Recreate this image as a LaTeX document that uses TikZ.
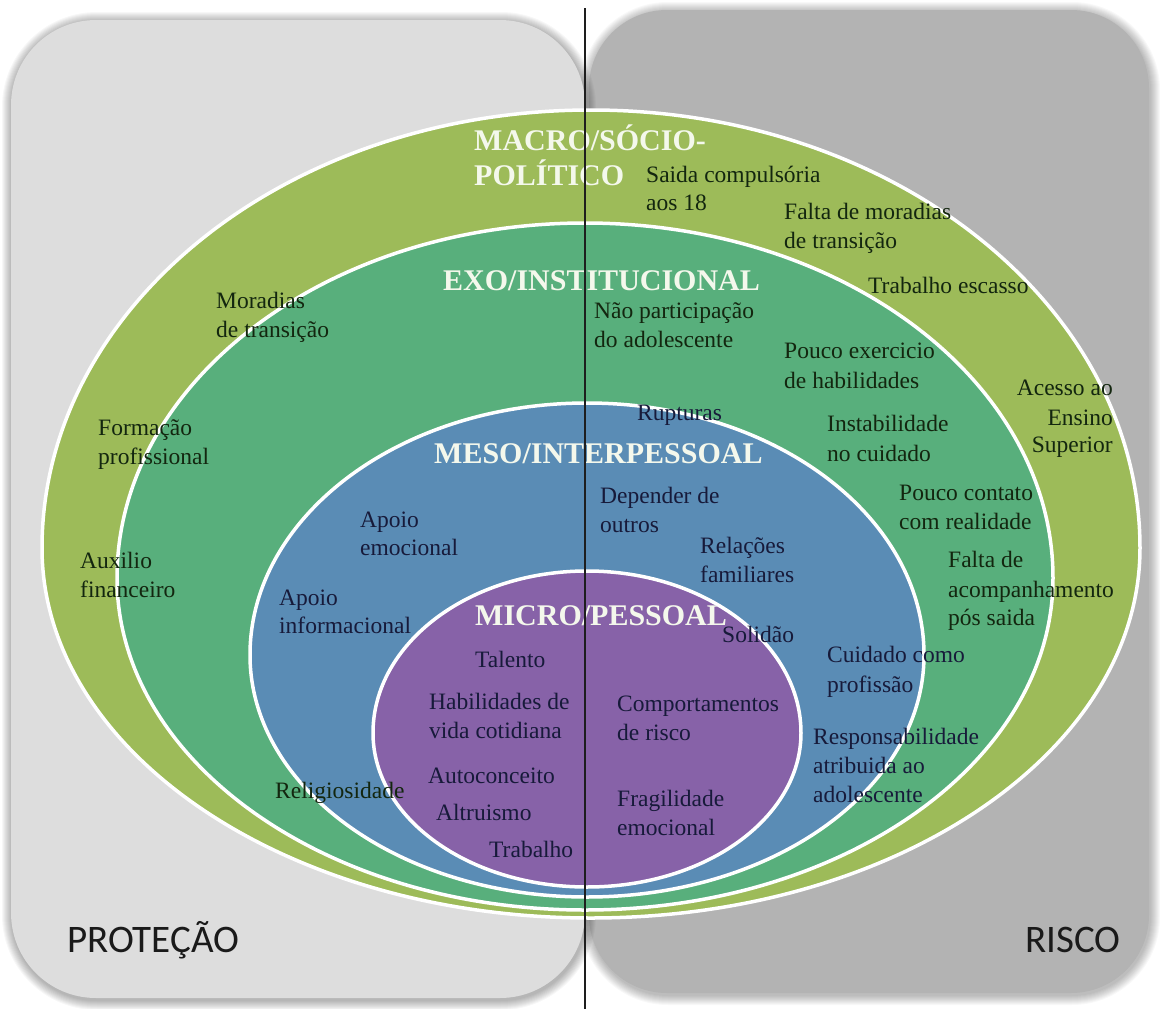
\documentclass[tikz,border=0pt]{standalone}
\usepackage{fontspec}
\setmainfont{Liberation Serif}
\newfontfamily\calfont{Carlito}
\definecolor{leftbox}{HTML}{DDDDDD}
\definecolor{rightbox}{HTML}{B3B3B3}
\definecolor{macroC}{HTML}{9DBB59}
\definecolor{exoC}{HTML}{58AF7C}
\definecolor{mesoC}{HTML}{5A8CB5}
\definecolor{microC}{HTML}{8762A8}
\definecolor{titleC}{HTML}{F4F8EC}
\definecolor{txtg}{HTML}{13260F}
\definecolor{txtb}{HTML}{171A3A}
\definecolor{vlineC}{HTML}{1E1E1E}
\definecolor{cornerC}{HTML}{1A1A1A}
\begin{document}
\begin{tikzpicture}[x=1pt,y=-1pt,
  lblg/.style={anchor=base west, inner sep=0pt, font=\fontsize{23.5}{29}\selectfont, text=txtg},
  lblb/.style={anchor=base west, inner sep=0pt, font=\fontsize{23.5}{29}\selectfont, text=txtb},
  lblgr/.style={lblg, anchor=base east},
  ttl/.style={anchor=base west, inner sep=0pt, font=\fontsize{30}{35}\selectfont\bfseries, text=titleC},
  corner/.style={inner sep=0pt, font=\fontsize{39}{45}\selectfont\calfont, text=cornerC},
  ring/.style={draw=white, line width=3.5pt}]
\useasboundingbox (0,0) rectangle (1160,1009);
\fill[white] (0,0) rectangle (1160,1009);
% right box with soft shadow
\foreach \i in {1,...,10}{
  \pgfmathsetmacro\r{78+\i}
  \fill[black, opacity=0.028, rounded corners=\r pt] ({589-\i+1},{10-\i+2}) rectangle ({1149+\i+1},{993+\i+2});
}
\fill[rightbox, rounded corners=78pt] (589,10) rectangle (1149,993);
% left box with soft shadow
\foreach \i in {1,...,10}{
  \pgfmathsetmacro\r{85+\i}
  \fill[black, opacity=0.03, rounded corners=\r pt] ({11-\i+1},{20-\i+2}) rectangle ({585+\i+1},{998+\i+2});
}
\fill[leftbox, rounded corners=85pt] (11,20) rectangle (585,998);
% nested ellipses
\fill[macroC, ring] (1140,548) arc[start angle=0,end angle=180,x radius=549pt,y radius=438pt]
  arc[start angle=180,end angle=360,x radius=549pt,y radius=370pt] -- cycle;
\fill[exoC, ring] (1053,578) arc[start angle=0,end angle=180,x radius=468pt,y radius=355pt]
  arc[start angle=180,end angle=360,x radius=468pt,y radius=332pt] -- cycle;
\fill[mesoC, ring] (924,655) arc[start angle=0,end angle=180,x radius=337pt,y radius=252pt]
  arc[start angle=180,end angle=360,x radius=337pt,y radius=242pt] -- cycle;
\fill[microC, ring] (801,733) arc[start angle=0,end angle=180,x radius=214pt,y radius=162pt]
  arc[start angle=180,end angle=360,x radius=214pt,y radius=154pt] -- cycle;
% titles
\node[ttl] (macro1) at (474,150) {MACRO/SÓCIO-};
\node[ttl] (macro2) at (474,185) {POLÍTICO};
\node[ttl] (exo) at (443,290) {EXO/INSTITUCIONAL};
\node[ttl] (meso) at (434,463) {MESO/INTERPESSOAL};
\node[ttl] (micro) at (475,625) {MICRO/PESSOAL};
% macro / exo labels
\node[lblg] (saida1) at (646,182) {Saida compulsória};
\node[lblg] (saida2) at (646,210) {aos 18};
\node[lblg] (falta1) at (784,219) {Falta de moradias};
\node[lblg] (falta2) at (784,248) {de transição};
\node[lblg] (trab) at (868,293) {Trabalho escasso};
\node[lblg] (mor1) at (216,308) {Moradias};
\node[lblg] (mor2) at (216,337) {de transição};
\node[lblg] (nao1) at (594,318) {Não participação};
\node[lblg] (nao2) at (594,347) {do adolescente};
\node[lblg] (pouco1) at (784,358) {Pouco exercicio};
\node[lblg] (pouco2) at (784,388) {de habilidades};
\node[lblgr] (acesso1) at (1113,395) {Acesso ao};
\node[lblgr] (acesso2) at (1113,425) {Ensino};
\node[lblgr] (acesso3) at (1113,452) {Superior};
\node[lblg] (form1) at (98,435) {Formação};
\node[lblg] (form2) at (98,464) {profissional};
\node[lblb] (rupt) at (637,420) {Rupturas};
\node[lblg] (inst1) at (827,431) {Instabilidade};
\node[lblg] (inst2) at (827,461) {no cuidado};
\node[lblg] (cont1) at (899,500) {Pouco contato};
\node[lblg] (cont2) at (899,529) {com realidade};
\node[lblg] (aux1) at (80,568) {Auxilio};
\node[lblg] (aux2) at (80,597) {financeiro};
\node[lblg] (acomp1) at (948,567) {Falta de};
\node[lblg] (acomp2) at (948,597) {acompanhamento};
\node[lblg] (acomp3) at (948,625) {pós saida};
\node[lblg] (relig) at (275,798) {Religiosidade};
% meso / micro labels
\node[lblb] (dep1) at (600,503) {Depender de};
\node[lblb] (dep2) at (600,532) {outros};
\node[lblb] (rel1) at (700,553) {Relações};
\node[lblb] (rel2) at (700,582) {familiares};
\node[lblb] (apem1) at (360,527) {Apoio};
\node[lblb] (apem2) at (360,555) {emocional};
\node[lblb] (apinf1) at (279,605) {Apoio};
\node[lblb] (apinf2) at (279,633) {informacional};
\node[lblb] (sol) at (722,642) {Solidão};
\node[lblb] (cuid1) at (827,662) {Cuidado como};
\node[lblb] (cuid2) at (827,692) {profissão};
\node[lblb] (resp1) at (813,744) {Responsabilidade};
\node[lblb] (resp2) at (813,773) {atribuida ao};
\node[lblb] (resp3) at (813,802) {adolescente};
\node[lblb] (tal) at (475,667) {Talento};
\node[lblb] (hab1) at (429,709) {Habilidades de};
\node[lblb] (hab2) at (429,738) {vida cotidiana};
\node[lblb] (comp1) at (617,711) {Comportamentos};
\node[lblb] (comp2) at (617,740) {de risco};
\node[lblb] (auto) at (428,783) {Autoconceito};
\node[lblb] (alt) at (436,820) {Altruismo};
\node[lblb] (frag1) at (617,806) {Fragilidade};
\node[lblb] (frag2) at (617,835) {emocional};
\node[lblb] (trab2) at (489,857) {Trabalho};
% corner labels
\node[corner, anchor=base west] (prot) at (67,952) {PROTEÇÃO};
\node[corner, anchor=base east] (risco) at (1121,952) {RISCO};
% divider
\coordinate (vtop) at (585,8);
\coordinate (vbot) at (585,1009);
\draw[vlineC, line width=1.6pt] (vtop) -- (vbot);
\end{tikzpicture}
\end{document}
